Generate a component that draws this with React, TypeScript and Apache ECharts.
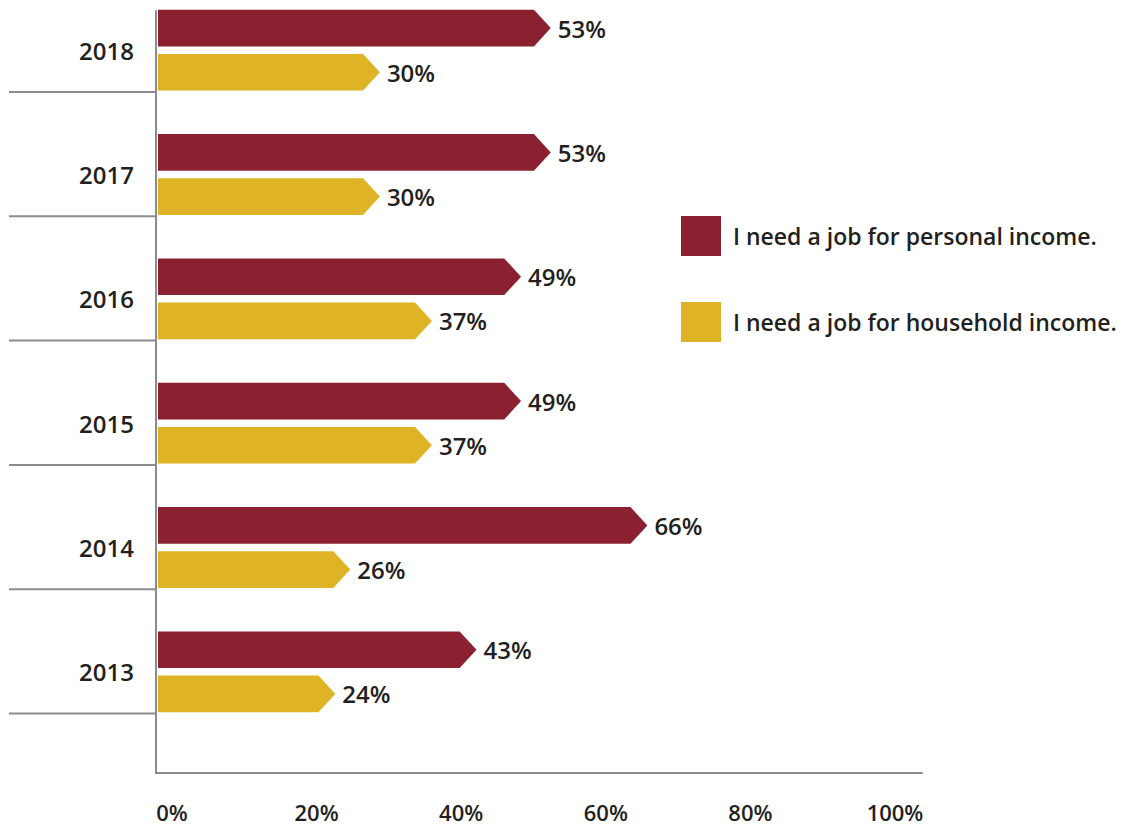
import React, { useEffect, useRef } from 'react';
import * as echarts from 'echarts';

const years = ['2013', '2014', '2015', '2016', '2017', '2018'];
const personalIncome = [43, 66, 49, 49, 53, 53];
const householdIncome = [24, 26, 37, 37, 30, 30];
const seriesNames = ['I need a job for personal income.', 'I need a job for household income.'];

const RED = '#8B2031';
const GOLD = '#DEB426';
const GREY = '#8C8C8C';
const TEXT = '#231F20';
const FONT = '"Open Sans", sans-serif';

function makeRender(color: string, upper: boolean, drawSeparator: boolean) {
  return (_params: any, api: any) => {
    const v = api.value(0);
    const idx = api.value(1);
    const start = api.coord([0, idx]);
    const end = api.coord([v, idx]);
    const band = api.size([0, 1])[1];
    const barH = band * 0.295;
    const gap = band * 0.03;
    const top = upper ? start[1] - gap - barH : start[1] + gap;
    const bottom = top + barH;
    const mid = (top + bottom) / 2;
    const d = barH * 0.46;
    const children: any[] = [
      {
        type: 'polygon',
        shape: {
          points: [
            [start[0] + 1, top],
            [end[0] - d, top],
            [end[0], mid],
            [end[0] - d, bottom],
            [start[0] + 1, bottom],
          ],
        },
        style: { fill: color },
      },
      {
        type: 'text',
        x: end[0] + 7,
        y: mid,
        style: {
          text: v + '%',
          fill: TEXT,
          fontSize: 24,
          fontWeight: 600,
          fontFamily: FONT,
          align: 'left',
          verticalAlign: 'middle',
        },
      },
    ];
    if (drawSeparator) {
      const y = start[1] + band * 0.336;
      children.push({
        type: 'line',
        shape: { x1: 9, y1: y, x2: start[0] - 1, y2: y },
        style: { stroke: GREY, lineWidth: 2 },
      });
    }
    return { type: 'group', children };
  };
}

export default function App() {
  const ref = useRef<HTMLDivElement>(null);
  useEffect(() => {
    document.body.style.margin = '0';
    const chart = echarts.init(ref.current!, null, { renderer: 'svg' });
    const hidden = { show: false };
    chart.setOption({
      animation: false,
      backgroundColor: '#ffffff',
      textStyle: { fontFamily: FONT },
      legend: {
        data: seriesNames,
        orient: 'vertical',
        left: 681,
        top: 216,
        padding: 0,
        itemWidth: 40,
        itemHeight: 40,
        itemGap: 46,
        icon: 'rect',
        selectedMode: false,
        textStyle: { fontSize: 23, fontWeight: 600, color: TEXT, fontFamily: FONT, padding: [0, 0, 0, 7] },
      },
      grid: [
        { left: 156, right: 202, top: 11, bottom: 55, outerBoundsMode: 'none' },
        { left: 157, right: 224, top: -12, bottom: 94, outerBoundsMode: 'none' },
        { left: 172, right: 229, top: 11, bottom: 55, outerBoundsMode: 'none' },
      ],
      xAxis: [
        {
          gridIndex: 0,
          type: 'value',
          min: 0,
          max: 100,
          axisLine: { show: true, lineStyle: { color: GREY, width: 2 } },
          axisTick: hidden,
          axisLabel: hidden,
          splitLine: hidden,
        },
        { gridIndex: 1, type: 'value', min: 0, max: 100, show: false },
        {
          gridIndex: 2,
          type: 'value',
          min: 0,
          max: 100,
          interval: 20,
          axisLine: hidden,
          axisTick: hidden,
          splitLine: hidden,
          axisLabel: {
            formatter: '{value}%',
            fontSize: 22,
            lineHeight: 20,
            fontWeight: 600,
            color: TEXT,
            fontFamily: FONT,
            margin: 29,
            showMinLabel: true,
            showMaxLabel: true,
          },
        },
      ],
      yAxis: [
        {
          gridIndex: 0,
          type: 'value',
          min: 0,
          max: 1,
          axisLine: { show: true, lineStyle: { color: GREY, width: 2 } },
          axisTick: hidden,
          axisLabel: hidden,
          splitLine: hidden,
        },
        {
          gridIndex: 1,
          type: 'category',
          data: years,
          axisLine: hidden,
          axisTick: hidden,
          splitLine: hidden,
          axisLabel: {
            fontSize: 24,
            fontWeight: 600,
            color: TEXT,
            fontFamily: FONT,
            margin: 23,
            padding: [16, 0, 0, 0],
          },
        },
        { gridIndex: 2, type: 'value', show: false },
      ],
      series: [
        {
          name: seriesNames[0],
          type: 'custom',
          xAxisIndex: 1,
          yAxisIndex: 1,
          clip: false,
          itemStyle: { color: RED },
          encode: { x: 0, y: 1 },
          data: personalIncome.map((v, i) => [v, i]),
          renderItem: makeRender(RED, true, false),
        },
        {
          name: seriesNames[1],
          type: 'custom',
          xAxisIndex: 1,
          yAxisIndex: 1,
          clip: false,
          itemStyle: { color: GOLD },
          encode: { x: 0, y: 1 },
          data: householdIncome.map((v, i) => [v, i]),
          renderItem: makeRender(GOLD, false, true),
        },
      ],
    });
    return () => chart.dispose();
  }, []);
  return <div ref={ref} style={{ width: 1124, height: 828 }} />;
}
